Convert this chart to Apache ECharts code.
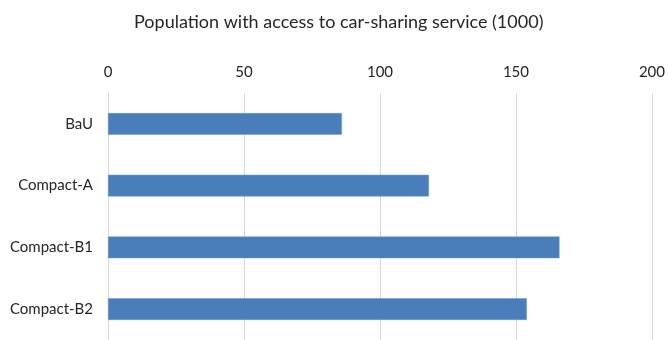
<!DOCTYPE html>
<html>
<head>
<meta charset="utf-8">
<script src="https://cdn.jsdelivr.net/npm/echarts@6/dist/echarts.min.js"></script>
<style>
  html, body { margin: 0; padding: 0; background: #fff; }
  #chart { width: 668px; height: 340px; }
</style>
</head>
<body>
<div id="chart"></div>
<script>
// Scenarios, top to bottom
const categories = ['BaU', 'Compact-A', 'Compact-B1', 'Compact-B2'];
// Population with access to car-sharing (thousands)
const population = [86, 118, 166, 154];
const titleText = 'Population with access to car-sharing service (1000)';

const FONT = 'Lato';
const chart = echarts.init(document.getElementById('chart'), null, { renderer: 'canvas' });

chart.setOption({
  backgroundColor: '#ffffff',
  animation: false,
  title: {
    text: titleText,
    left: 129,
    top: 8,
    textStyle: { fontFamily: FONT, fontSize: 18, fontWeight: 'normal', color: '#262626' }
  },
  grid: { left: 108, right: 13, top: 93, bottom: -2, containLabel: false },
  xAxis: {
    type: 'value',
    position: 'top',
    min: 0,
    max: 200,
    interval: 50,
    axisLine: { show: false },
    axisTick: { show: false },
    axisLabel: { fontFamily: FONT, fontSize: 15, color: '#262626', margin: 13 },
    splitLine: { show: true, lineStyle: { color: '#d9d9d9', width: 1 } }
  },
  yAxis: {
    type: 'category',
    data: categories,
    inverse: true,
    axisLine: { show: true, lineStyle: { color: '#d9d9d9', width: 1 } },
    axisTick: { show: false },
    axisLabel: { fontFamily: FONT, fontSize: 15, color: '#262626', margin: 15 }
  },
  series: [{
    type: 'bar',
    data: population,
    barWidth: '35%',
    itemStyle: { color: '#4a7ebb', borderColor: '#6a95c8', borderWidth: 0.5 }
  }]
});
</script>
</body>
</html>
